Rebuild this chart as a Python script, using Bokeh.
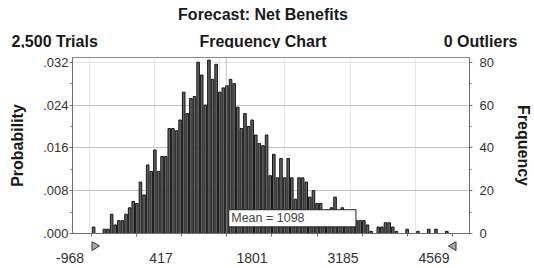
import numpy as np
from bokeh.plotting import figure
from bokeh.layouts import column
from bokeh.core.properties import value
from bokeh.models import (Range1d, LinearAxis, FixedTicker, CustomJSTickFormatter,
                          Span, BoxAnnotation, Label, Grid)
from bokeh.embed import file_html
from bokeh.resources import INLINE

# ---------------- data ----------------
title_text = "Forecast: Net Benefits"
chart_kind = "Frequency Chart"
trials = 2500
outliers = 0
x_min, x_max = -968, 4569
mean_value = 1098
tick_values = [-968, 417, 1801, 3185, 4569]
tick_labels = ["-968", "417", "1801", "3185", "4569"]
prob_ticks = [0.0, 0.008, 0.016, 0.024, 0.032]
freq_ticks = [0, 20, 40, 60, 80]
grid_ticks = [20, 40, 60]
freq = [3, 0, 0, 2, 2, 9, 4, 6, 6, 9,
        12, 15, 14, 24, 18, 32, 29, 39, 29, 36,
        36, 49, 49, 48, 53, 66, 56, 63, 64, 80,
        74, 60, 81, 72, 79, 66, 68, 69, 72, 70,
        59, 49, 56, 50, 53, 46, 42, 41, 46, 27,
        37, 26, 35, 26, 35, 26, 16, 26, 26, 24,
        17, 20, 14, 14, 9, 11, 12, 17, 8, 12,
        7, 8, 5, 6, 6, 6, 4, 1, 0, 3,
        3, 5, 5, 3, 1, 0, 0, 2, 0, 0,
        1, 0, 0, 2, 0, 2, 0, 0, 1, 0]

# ---------------- derived ----------------
n = len(freq)
edges = np.linspace(x_min, x_max, n + 1)
centers = (edges[:-1] + edges[1:]) / 2
bin_w = edges[1] - edges[0]
upp = (x_max - x_min) / 364.0      # data units per pixel
y_top = 82.2

FONT = "Liberation Sans"
TXT = "#1a1a1a"
W = 534
H_TOP, H_MAIN, H_BOT = 48, 193, 27
FL, FR = 72, 473                   # frame left / right in pixels
x_start = x_min - (91.5 - FL) * upp
x_end = x_start + (FR - FL) * upp


def no_align(f):
    if "frame_align" in f.properties():
        f.frame_align = False


def blank(h, x0, x1):
    f = figure(width=W, height=h, output_backend="svg", toolbar_location=None,
               x_range=Range1d(x0, x1), y_range=Range1d(h, 0),
               x_axis_location=None, y_axis_location=None, min_border=0)
    f.outline_line_color = None
    f.background_fill_color = "white"
    f.border_fill_color = "white"
    f.grid.visible = False
    no_align(f)
    return f


# ---------------- header ----------------
top = blank(H_TOP, 0, W)
top.text(x=[262.5], y=[14], text=[title_text], text_align="center",
         text_baseline="middle", text_font=value(FONT), text_font_size="16px",
         text_font_style="bold", text_color=TXT)
top.text(x=[11, 262.5, 517], y=[40.5, 40.5, 40.5],
         text=[f"{trials:,} Trials", chart_kind, f"{outliers} Outliers"],
         text_align=["left", "center", "right"], text_baseline="middle",
         text_font=value(FONT), text_font_size="16px", text_font_style="bold",
         text_color=TXT)

# ---------------- main chart ----------------
p = figure(width=W, height=H_MAIN, output_backend="svg", toolbar_location=None,
           x_range=Range1d(x_start, x_end), y_range=Range1d(0, y_top),
           x_axis_location=None, y_axis_location=None,
           min_border_left=FL, min_border_right=W - FR, min_border_top=9, min_border_bottom=8)
p.outline_line_color = "#8a8a8a"
p.background_fill_color = "white"
p.border_fill_color = "white"
p.extra_y_ranges = {"prob": Range1d(0, y_top / trials)}
no_align(p)

p.add_layout(Grid(dimension=1, ticker=FixedTicker(ticks=grid_ticks),
                  grid_line_color="#a0a0a0", grid_line_dash="1 1", grid_line_width=1))

p.vbar(x=centers, top=freq, width=bin_w * 0.72, bottom=0,
       fill_color="#606060", line_color="#161616", line_width=1)

left = LinearAxis(y_range_name="prob",
                  ticker=FixedTicker(ticks=prob_ticks,
                                     minor_ticks=[0.004, 0.012, 0.020, 0.028]),
                  formatter=CustomJSTickFormatter(code="return tick.toFixed(3).replace(/^0/, '')"),
                  axis_label="Probability")
right = LinearAxis(ticker=FixedTicker(ticks=freq_ticks, minor_ticks=[10, 30, 50, 70]),
                   axis_label="Frequency")
bottom = LinearAxis(ticker=FixedTicker(ticks=list(np.linspace(x_min, x_max, 9))),
                    formatter=CustomJSTickFormatter(code="return ''"))
for ax in (left, right, bottom):
    ax.axis_line_color = "#6e6e6e"
    ax.major_tick_line_color = "#6e6e6e"
    ax.minor_tick_line_color = "#6e6e6e"
    ax.major_tick_in = 0
    ax.major_tick_out = 3
    ax.minor_tick_in = 0
    ax.minor_tick_out = 2
    ax.major_label_text_font = FONT
    ax.major_label_text_font_size = "13px"
    ax.major_label_text_color = "#333333"
    ax.axis_label_text_font = FONT
    ax.axis_label_text_font_size = "16px"
    ax.axis_label_text_font_style = "bold"
    ax.axis_label_text_color = TXT
left.major_label_standoff = 1
left.axis_label_standoff = 14
right.major_label_standoff = 7
right.axis_label_standoff = 18
bottom.major_label_standoff = 0
bottom.major_label_text_font_size = "0px"
p.add_layout(left, "left")
p.add_layout(right, "right")
p.add_layout(bottom, "below")

p.add_layout(Span(location=mean_value, dimension="height", line_color="#8a8a8a",
                  line_dash="1 1", line_width=1))
p.add_layout(BoxAnnotation(left=mean_value + 2.5 * upp, right=mean_value + 131 * upp,
                           bottom=3.1, top=11.1, fill_color="white", fill_alpha=1,
                           line_color="#222222", line_width=1, line_alpha=1))
p.add_layout(Label(x=mean_value + 5 * upp, y=7.1, text=f"Mean = {mean_value}",
                   text_baseline="middle", text_align="left", text_font=FONT,
                   text_font_size="12.5px", text_color="#444444"))

# ---------------- x labels and end grabbers ----------------
bot = blank(H_BOT, x_start - FL * upp, x_start + (W - FL) * upp)
tri = 7.5 * upp
bot.patches(xs=[[x_min, x_min, x_min + tri], [x_max, x_max, x_max - tri]],
            ys=[[0, 9, 4.5], [0, 9, 4.5]], fill_color="#a8a8a8",
            line_color="#333333", line_width=1)
bot.text(x=[v - 22 * upp for v in tick_values], y=[16] * len(tick_values),
         text=tick_labels, text_align="center", text_baseline="middle",
         text_font=value(FONT), text_font_size="14px", text_color="#333333")

open("out.html", "w").write(file_html(column(top, p, bot, spacing=0), INLINE))
